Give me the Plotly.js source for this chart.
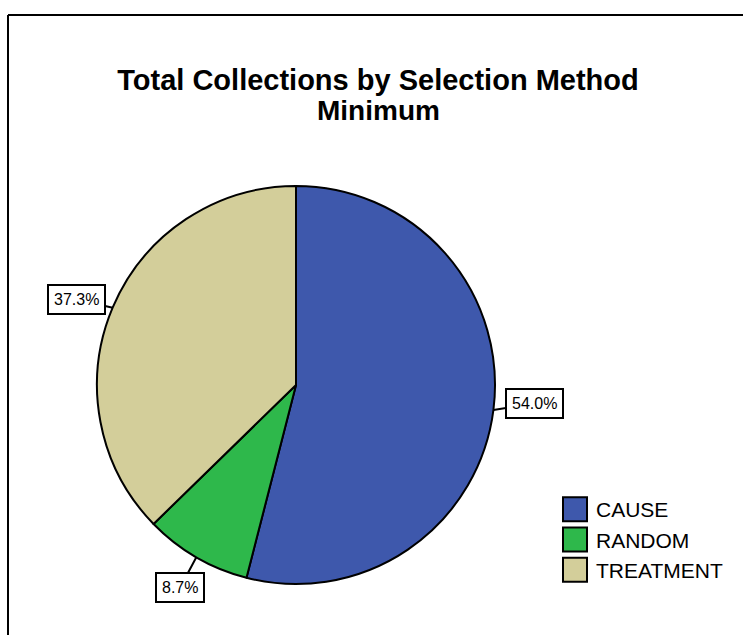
<!DOCTYPE html>
<html>
<head>
<meta charset="utf-8">
<script src="https://cdn.plot.ly/plotly-3.0.1.min.js"></script>
<style>
  html, body { margin: 0; padding: 0; background: #ffffff; }
  #chart { width: 743px; height: 635px; }
</style>
</head>
<body>
<div id="chart"></div>
<script>
// Share of total collections per selection method (percent)
const methods = ['CAUSE', 'RANDOM', 'TREATMENT'];
const shares = [54.0, 8.7, 37.3];
const sliceColors = ['#3E58AC', '#2EB84B', '#D3CE9A'];

const W = 743, H = 635;
// pie placement in pixels
const cx = 296, cy = 385, r = 199;
// pixel offset from each slice's edge point to the centre of its label box
const labelOffsets = [[41, -6], [-16, 30], [-36, -8]];

const pieDomainX = [(cx - r) / W, (cx + r) / W];
const pieDomainY = [1 - (cy + r) / H, 1 - (cy - r) / H];

const pieTrace = {
  type: 'pie',
  labels: methods,
  values: shares,
  sort: false,
  direction: 'clockwise',
  rotation: 0,
  textinfo: 'none',
  hoverinfo: 'label+percent',
  marker: { colors: sliceColors, line: { color: '#000000', width: 2 } },
  domain: { x: pieDomainX, y: pieDomainY }
};

const FONT = 'Arial, Liberation Sans, sans-serif';

// boxed percentage labels with leader lines from each slice's outer edge
const total = shares.reduce((a, b) => a + b, 0);
const annotations = [];
let cum = 0;
shares.forEach((v, i) => {
  const mid = (cum + v / 2) / total * 2 * Math.PI;
  cum += v;
  const ex = cx + r * Math.sin(mid), ey = cy - r * Math.cos(mid);
  annotations.push({
    xref: 'paper', yref: 'paper',
    x: ex / W, y: 1 - ey / H,
    axref: 'pixel', ayref: 'pixel',
    ax: labelOffsets[i][0], ay: labelOffsets[i][1],
    text: v.toFixed(1) + '%',
    showarrow: true, arrowhead: 0, arrowwidth: 2, arrowcolor: '#000000',
    standoff: 0,
    font: { family: FONT, size: 16, color: '#000000' },
    bgcolor: '#ffffff', bordercolor: '#000000', borderwidth: 2, borderpad: 5
  });
});

// second title line, set tighter than the default title line spacing
annotations.push({
  xref: 'paper', yref: 'paper',
  x: 378 / W, y: 1 - 111 / H, xanchor: 'center', yanchor: 'middle',
  text: 'Minimum', showarrow: false,
  font: { family: FONT, size: 28, color: '#000000', weight: 'bold' }
});

const layout = {
  width: W, height: H,
  margin: { l: 0, r: 0, t: 0, b: 0 },
  paper_bgcolor: '#ffffff',
  plot_bgcolor: '#ffffff',
  title: {
    text: 'Total Collections by Selection Method',
    font: { family: FONT, size: 29, color: '#000000', weight: 'bold' },
    x: 378 / W, xanchor: 'center',
    y: 1 - 80 / H, yanchor: 'middle'
  },
  showlegend: true,
  legend: {
    x: 556 / W, xanchor: 'left',
    y: 1 - 489 / H, yanchor: 'top',
    font: { family: FONT, size: 21, color: '#000000' },
    bgcolor: 'rgba(0,0,0,0)',
    tracegroupgap: 0
  },
  annotations: annotations,
  shapes: [
    { type: 'line', xref: 'paper', yref: 'paper',
      x0: 8 / W, x1: 1, y0: 1 - 15 / H, y1: 1 - 15 / H,
      line: { color: '#000000', width: 2 } },
    { type: 'line', xref: 'paper', yref: 'paper',
      x0: 8 / W, x1: 8 / W, y0: 0, y1: 1 - 15 / H,
      line: { color: '#000000', width: 2 } }
  ]
};

Plotly.newPlot('chart', [pieTrace], layout, { displayModeBar: false, staticPlot: true }).then((gd) => {
  // larger square legend swatches sitting close to their text
  gd.querySelectorAll('.legendpoints path').forEach((p) => {
    p.removeAttribute('transform');
    p.setAttribute('d', 'M31,12H7V-12H31Z');
    p.style.strokeWidth = '2px';
    p.style.stroke = '#000000';
  });
});
</script>
</body>
</html>
